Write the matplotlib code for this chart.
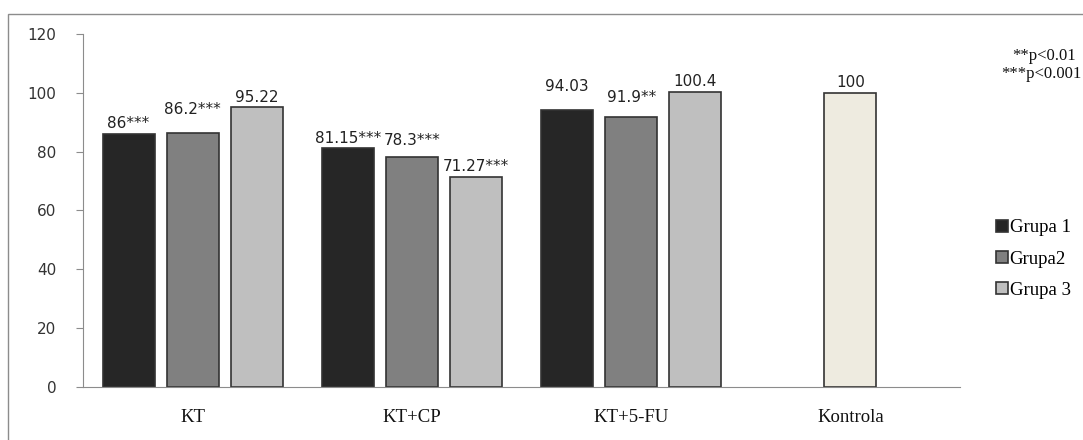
import matplotlib
matplotlib.use("Agg")
import matplotlib.pyplot as plt
from matplotlib.patches import Rectangle
import numpy as np

categories = ["KT", "KT+CP", "KT+5-FU", "Kontrola"]
series_names = ["Grupa 1", "Grupa2", "Grupa 3"]
grupa1 = [86, 81.15, 94.03]
grupa2 = [86.2, 78.3, 91.9]
grupa3 = [95.22, 71.27, 100.4]
kontrola = [100]
labels1 = ["86***", "81.15***", "94.03"]
labels2 = ["86.2***", "78.3***", "91.9**"]
labels3 = ["95.22", "71.27***", "100.4"]
labels_k = ["100"]
yticks = [0, 20, 40, 60, 80, 100, 120]

# label lift above bar top (pixels), as placed in the original
lift1 = [3, 2, 16]
lift2 = [16, 9, 12]
lift3 = [2, 3.5, 3]
lift_k = [3]

colors = ["#262626", "#808080", "#bfbfbf"]
kcolor = "#eeebe0"
edge = "#333333"

fig = plt.figure(figsize=(10.83, 4.4), dpi=100)
ax = fig.add_axes([83/1083, 1 - 387/440, (960-83)/1083, (387-34)/440])

# outer border
fig.patches.append(Rectangle((8/1083, -0.01), 1.0, 1 - 14/440 + 0.01,
                             transform=fig.transFigure, fill=False,
                             edgecolor="#8c8c8c", linewidth=1.0))

x = np.arange(3)
w = 0.237
off = 0.292
handles = []
lab_kw = dict(textcoords="offset pixels", ha="center",
              va="bottom", fontsize=11, family="DejaVu Sans", color="#222222")
for i, (vals, labs, lifts) in enumerate(zip([grupa1, grupa2, grupa3],
                                            [labels1, labels2, labels3],
                                            [lift1, lift2, lift3])):
    bars = ax.bar(x + (i - 1) * off, vals, width=w, color=colors[i],
                  edgecolor=edge, linewidth=1.2, label=series_names[i])
    handles.append(bars)
    for b, t, l in zip(bars, labs, lifts):
        ax.annotate(t, (b.get_x() + b.get_width() / 2, b.get_height()),
                    xytext=(0, l), **lab_kw)

kb = ax.bar([3], kontrola, width=w, color=kcolor, edgecolor=edge, linewidth=1.2)
for b, t, l in zip(kb, labels_k, lift_k):
    ax.annotate(t, (b.get_x() + b.get_width() / 2, b.get_height()),
                xytext=(0, l), **lab_kw)

ax.set_xlim(-0.5, 3.5)
ax.set_ylim(0, 120)
ax.set_yticks(yticks)
ax.set_yticklabels([str(v) for v in yticks], fontsize=11, family="DejaVu Sans", color="#333333")
ax.set_xticks(range(4))
ax.set_xticklabels(categories, fontsize=13.5, family="Liberation Serif", color="#111111")
ax.tick_params(axis="x", length=0, pad=16)
ax.tick_params(axis="y", length=5, direction="out", color="#8c8c8c", pad=14)
for s in ["top", "right"]:
    ax.spines[s].set_visible(False)
ax.spines["left"].set_color("#8c8c8c")
ax.spines["bottom"].set_color("#8c8c8c")

leg = fig.legend(handles=handles, labels=series_names,
                 loc="center left", bbox_to_anchor=(987/1083, 1 - 259/440),
                 frameon=False, handlelength=0.6, handleheight=0.6,
                 handletextpad=0.1, labelspacing=0.75, borderpad=0,
                 prop={"family": "Liberation Serif", "size": 13.5})

fig.text(1076/1083, 1 - 56/440, "**p<0.01", ha="right", va="center",
         fontsize=12, family="Liberation Serif", color="#111111")
fig.text(1081/1083, 1 - 74/440, "***p<0.001", ha="right", va="center",
         fontsize=12, family="Liberation Serif", color="#111111")

fig.savefig("out.png", dpi=100)
